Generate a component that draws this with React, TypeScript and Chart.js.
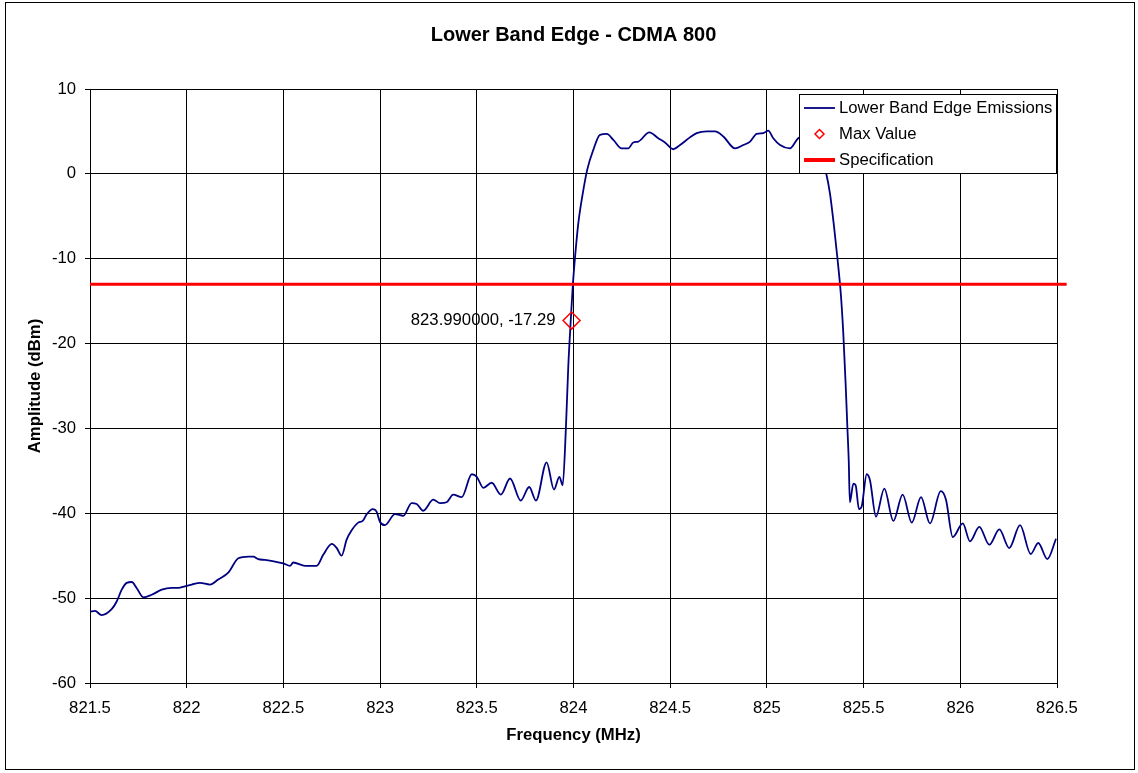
import React, { useEffect, useRef } from 'react';
import { Chart, registerables } from 'chart.js';

Chart.register(...registerables);

const chartTitle = 'Lower Band Edge - CDMA 800';
const xAxisTitle = 'Frequency (MHz)';
const yAxisTitle = 'Amplitude (dBm)';
const seriesNames = ['Lower Band Edge Emissions', 'Max Value', 'Specification'];

const freqMHz = [
  821.500, 821.526, 821.560, 821.612, 821.638, 821.664, 821.690, 821.716, 821.741, 821.776,
  821.819, 821.871, 821.922, 821.957, 821.991, 822.026, 822.069, 822.120, 822.163, 822.215,
  822.267, 822.319, 822.344, 822.370, 822.405, 822.457, 822.500, 822.534, 822.551, 822.612,
  822.672, 822.706, 822.750, 822.776, 822.801, 822.827, 822.853, 822.887, 822.910, 822.931,
  822.962, 822.982, 822.999, 823.025, 823.077, 823.120, 823.163, 823.189, 823.223, 823.275,
  823.310, 823.344, 823.378, 823.422, 823.474, 823.500, 823.534, 823.577, 823.624, 823.672,
  823.727, 823.771, 823.806, 823.861, 823.899, 823.927, 823.944, 823.961, 823.973, 823.986,
  823.996, 824.008, 824.025, 824.048, 824.071, 824.102, 824.137, 824.172, 824.206, 824.249,
  824.283, 824.309, 824.335, 824.392, 824.438, 824.473, 824.516, 824.551, 824.602, 824.637,
  824.689, 824.732, 824.775, 824.835, 824.878, 824.913, 824.947, 824.981, 825.007, 825.033,
  825.068, 825.119, 825.162, 825.212, 825.264, 825.306, 825.326, 825.347, 825.364, 825.382,
  825.395, 825.407, 825.416, 825.423, 825.429, 825.447, 825.459, 825.476, 825.490, 825.516,
  825.533, 825.564, 825.607, 825.654, 825.702, 825.749, 825.797, 825.843, 825.899, 825.926,
  825.961, 826.013, 826.050, 826.098, 826.150, 826.202, 826.253, 826.309, 826.364, 826.403,
  826.450, 826.495,
];

const amplitudeDbm = [
  -51.6, -51.5, -52.0, -51.3, -50.4, -49.0, -48.2, -48.1, -48.8, -49.9,
  -49.6, -49.0, -48.8, -48.8, -48.6, -48.4, -48.2, -48.4, -47.8, -47.0,
  -45.3, -45.1, -45.1, -45.4, -45.5, -45.7, -45.9, -46.2, -45.8, -46.2,
  -46.2, -44.9, -43.6, -44.1, -45.0, -43.1, -42.0, -41.1, -40.9, -40.1,
  -39.5, -39.8, -41.0, -41.4, -40.1, -40.3, -38.8, -38.9, -39.7, -38.4,
  -38.8, -38.7, -37.8, -38.1, -35.4, -35.7, -37.0, -36.4, -37.8, -35.9,
  -38.5, -36.9, -38.5, -34.0, -37.2, -35.7, -36.7, -29.8, -22.7, -17.2,
  -13.3, -9.8, -5.8, -2.3, 0.5, 2.8, 4.6, 4.7, 4.0, 3.0,
  3.0, 3.7, 3.8, 4.9, 4.2, 3.7, 2.9, 3.4, 4.3, 4.8,
  5.0, 5.0, 4.4, 3.0, 3.4, 3.8, 4.7, 4.8, 5.1, 4.2,
  3.4, 3.0, 4.2, 4.5, 3.0, 0.1, -2.3, -6.2, -9.8, -14.1,
  -18.8, -24.7, -29.8, -33.7, -38.7, -36.5, -36.7, -39.5, -39.2, -35.4,
  -36.1, -40.4, -37.1, -40.9, -37.8, -41.1, -38.1, -41.2, -37.4, -38.4,
  -42.8, -41.2, -43.3, -41.6, -43.7, -41.9, -44.1, -41.4, -44.8, -43.5,
  -45.4, -43.0,
];

const maxValueFreq = [823.99];
const maxValueAmp = [-17.29];

const specFreq = [821.5, 826.55];
const specAmp = [-13, -13];

const xRange = [821.5, 826.5];
const xStep = 0.5;
const yRange = [-60, 10];
const yStep = 10;

const FONT = '"Liberation Sans", Arial, Helvetica, sans-serif';
const NAVY = '#000080';
const RED = '#ff0000';

const decorPlugin = {
  id: 'decor',
  afterDraw(chart: any) {
    const { ctx, chartArea } = chart;
    const cx = (chartArea.left + chartArea.right) / 2;
    const cy = (chartArea.top + chartArea.bottom) / 2;
    ctx.save();

    // outer border
    ctx.strokeStyle = '#000';
    ctx.lineWidth = 1;
    ctx.strokeRect(5.5, 2.5, 1129, 767);

    ctx.fillStyle = '#000';
    ctx.textBaseline = 'middle';
    ctx.textAlign = 'center';
    ctx.font = `bold 20px ${FONT}`;
    ctx.fillText(chartTitle, cx, 35);

    ctx.font = `bold 16.7px ${FONT}`;
    ctx.fillText(xAxisTitle, cx, 735);

    ctx.save();
    ctx.translate(35, cy);
    ctx.rotate(-Math.PI / 2);
    ctx.fillText(yAxisTitle, 0, 0);
    ctx.restore();

    // data label for max value
    const meta = chart.getDatasetMeta(0);
    const pt = meta.data[0];
    if (pt) {
      ctx.font = `16.7px ${FONT}`;
      ctx.textAlign = 'right';
      ctx.fillText(`${maxValueFreq[0].toFixed(6)}, ${maxValueAmp[0].toFixed(2)}`, pt.x - 16, pt.y);
    }

    // legend
    const lx = 799.5, ly = 94.5, lw = 257, lh = 79;
    ctx.fillStyle = '#fff';
    ctx.fillRect(lx, ly, lw, lh);
    ctx.strokeStyle = '#000';
    ctx.lineWidth = 1;
    ctx.strokeRect(lx, ly, lw, lh);

    const rows = [108, 134, 160];
    const symL = 804, symR = 835, textX = 839;
    ctx.strokeStyle = NAVY;
    ctx.lineWidth = 1.8;
    ctx.beginPath();
    ctx.moveTo(symL, rows[0]);
    ctx.lineTo(symR, rows[0]);
    ctx.stroke();
    ctx.strokeStyle = RED;
    ctx.lineWidth = 1.5;
    const dx = (symL + symR) / 2, dy = rows[1], r = 4.5;
    ctx.beginPath();
    ctx.moveTo(dx - r, dy);
    ctx.lineTo(dx, dy - r);
    ctx.lineTo(dx + r, dy);
    ctx.lineTo(dx, dy + r);
    ctx.closePath();
    ctx.stroke();
    ctx.strokeStyle = RED;
    ctx.lineWidth = 4;
    ctx.beginPath();
    ctx.moveTo(symL, rows[2]);
    ctx.lineTo(symR, rows[2]);
    ctx.stroke();

    ctx.fillStyle = '#000';
    ctx.textAlign = 'left';
    ctx.font = `16.7px ${FONT}`;
    seriesNames.forEach((name, i) => ctx.fillText(name, textX, rows[i]));

    ctx.restore();
  },
};

export default function App() {
  const canvasRef = useRef<HTMLCanvasElement | null>(null);

  useEffect(() => {
    document.body.style.margin = '0';
    const canvas = canvasRef.current;
    if (!canvas) return;

    const emissions = freqMHz.map((f, i) => ({ x: f, y: amplitudeDbm[i] }));
    const maxPts = maxValueFreq.map((f, i) => ({ x: f, y: maxValueAmp[i] }));
    const specPts = specFreq.map((f, i) => ({ x: f, y: specAmp[i] }));

    const chart = new Chart(canvas, {
      type: 'scatter',
      data: {
        datasets: [
          {
            label: seriesNames[1],
            data: maxPts,
            pointStyle: 'rectRot',
            pointRadius: 8.5,
            borderColor: RED,
            borderWidth: 1.5,
            backgroundColor: 'rgba(0,0,0,0)',
            showLine: false,
          },
          {
            label: seriesNames[2],
            data: specPts,
            showLine: true,
            borderColor: RED,
            borderWidth: 3,
            pointRadius: 0,
            clip: false,
          } as any,
          {
            label: seriesNames[0],
            data: emissions,
            showLine: true,
            borderColor: NAVY,
            borderWidth: 1.8,
            pointRadius: 0,
            cubicInterpolationMode: 'monotone',
          } as any,
        ],
      },
      options: {
        responsive: false,
        animation: false,
        events: [],
        layout: { padding: { left: 10, right: 81, top: 89, bottom: 20 } },
        plugins: {
          legend: { display: false },
          title: { display: false },
          tooltip: { enabled: false },
        },
        scales: {
          x: {
            type: 'linear',
            min: xRange[0],
            max: xRange[1],
            afterFit: (s: any) => { s.height = 70; },
            ticks: {
              stepSize: xStep,
              color: '#000',
              font: { family: FONT, size: 16.7 },
              padding: 10,
              maxRotation: 0,
              callback: (v: any) => String(Number(Number(v).toFixed(1))),
            },
            grid: { color: '#000', lineWidth: 1, tickLength: 5 },
            border: { color: '#000', width: 1 },
          },
          y: {
            type: 'linear',
            min: yRange[0],
            max: yRange[1],
            afterFit: (s: any) => { s.width = 80; },
            ticks: {
              stepSize: yStep,
              color: '#000',
              font: { family: FONT, size: 16.7 },
              padding: 9,
            },
            grid: { color: '#000', lineWidth: 1, tickLength: 5 },
            border: { color: '#000', width: 1 },
          },
        },
      } as any,
      plugins: [decorPlugin],
    });

    return () => chart.destroy();
  }, []);

  return (
    <div style={{ width: 1138, height: 773, background: '#fff' }}>
      <canvas ref={canvasRef} width={1138} height={773} style={{ display: 'block' }} />
    </div>
  );
}
